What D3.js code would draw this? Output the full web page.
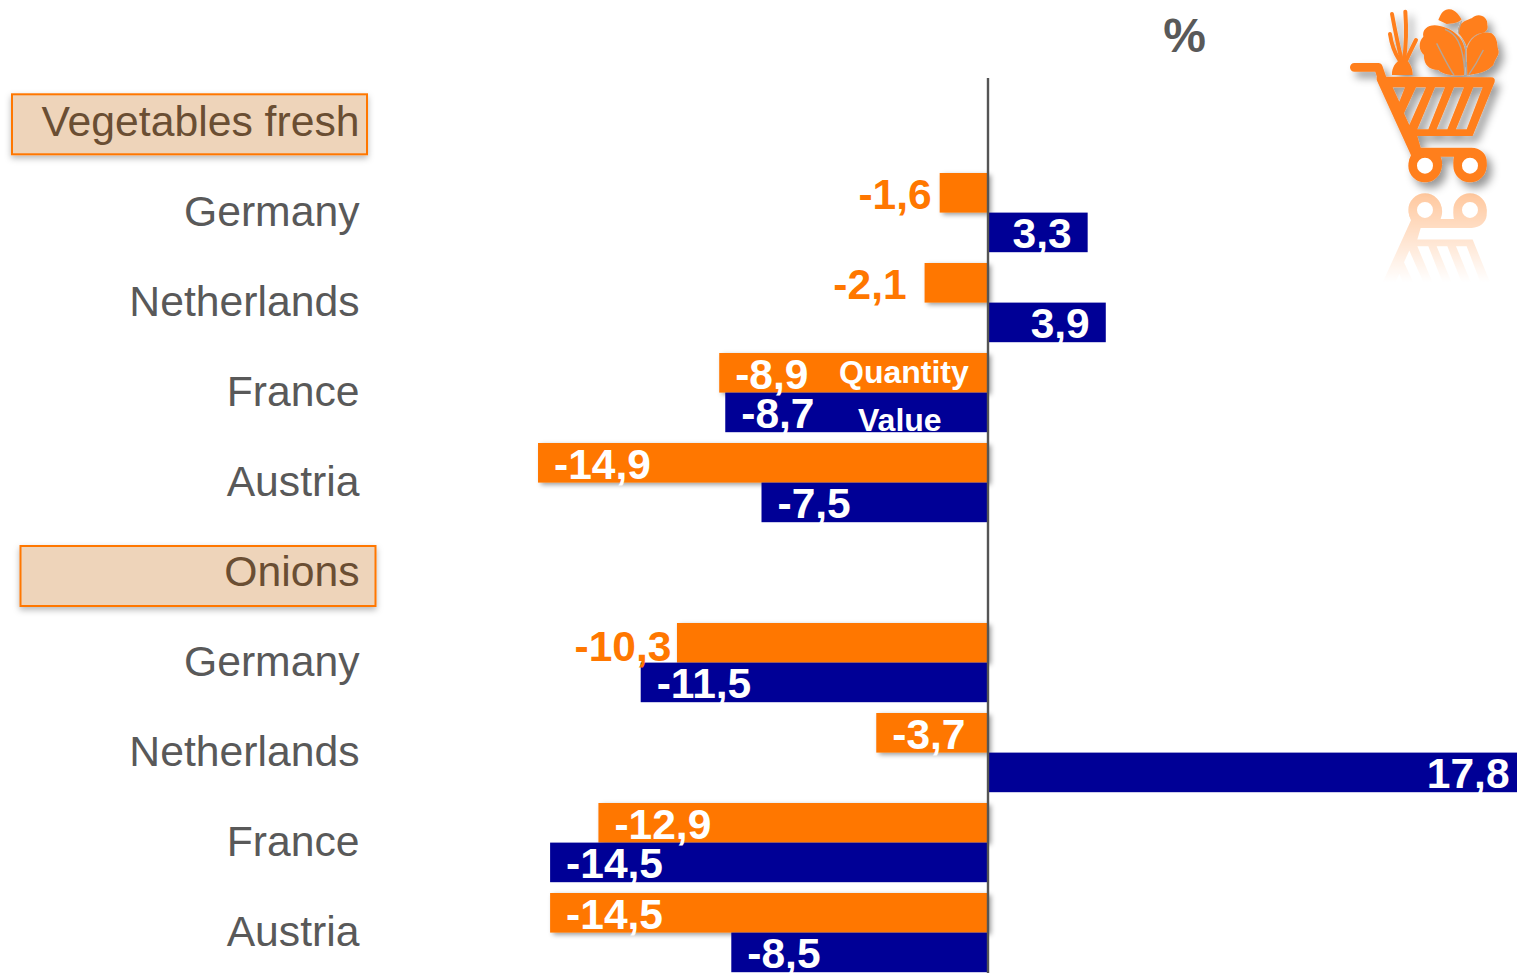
<!DOCTYPE html>
<html><head><meta charset="utf-8">
<script src="https://cdnjs.cloudflare.com/ajax/libs/d3/7.8.5/d3.min.js"></script>
<style>html,body{margin:0;padding:0;background:#fff;overflow:hidden}svg{display:block;font-family:"Liberation Sans",Arial,sans-serif}</style>
</head><body><svg id="c" width="1517" height="973"></svg>
<script>
const rowLabels = ["Vegetables fresh","Germany","Netherlands","France","Austria","Onions","Germany","Netherlands","France","Austria"];
const headerRows = [0,5];
const quantity = [null,-1.6,-2.1,-8.9,-14.9,null,-10.3,-3.7,-12.9,-14.5];
const value    = [null,3.3,3.9,-8.7,-7.5,null,-11.5,17.8,-14.5,-8.5];
const outsideLabels = [1,2,6];           // rows whose Quantity label sits outside the bar
const outsideGap = {1:8,2:18,6:5.5};
const legendWords = ["Quantity","Value"];
const unitLabel = "%";
const ORANGE="#ff7700", BLUE="#000096", GREY="#595959";

const svg=d3.select("#c");
const defs=svg.append("defs");
const shadow=(id,dx,dy,sd,op)=>{const f=defs.append("filter").attr("id",id).attr("x","-20%").attr("y","-20%").attr("width","150%").attr("height","150%");
  f.append("feDropShadow").attr("dx",dx).attr("dy",dy).attr("stdDeviation",sd).attr("flood-color","#000").attr("flood-opacity",op);};
shadow("boxS",0,3,3,.28); shadow("barS",3,2,2.5,.4); shadow("iconS",5,6,4,.4);
const grad=defs.append("linearGradient").attr("id","fade").attr("gradientUnits","userSpaceOnUse").attr("x1",0).attr("x2",0).attr("y1",190).attr("y2",282);
grad.append("stop").attr("offset",0).attr("stop-color","#fff").attr("stop-opacity",.45);
grad.append("stop").attr("offset",1).attr("stop-color","#fff").attr("stop-opacity",0);
defs.append("mask").attr("id","fadeM").attr("maskUnits","userSpaceOnUse").attr("x",1330).attr("y",188).attr("width",187).attr("height",110)
  .append("rect").attr("x",1330).attr("y",188).attr("width",187).attr("height",110).attr("fill","url(#fade)");

const x=d3.scaleLinear().domain([0,17.8]).range([988,988+17.8*30.2]);
const y=d3.scaleBand().domain(d3.range(rowLabels.length)).range([83,983]);
const sub=d3.scaleBand().domain(["q","v"]).range([0,79.2]);
const rows=rowLabels.map((l,i)=>({i,l}));

// header boxes
const boxes=[{r:0,x0:12,x1:367,dy:11.3},{r:5,x0:20.5,x1:375.5,dy:13}];
svg.selectAll("rect.hdr").data(boxes).join("rect").attr("class","hdr")
  .attr("x",d=>d.x0).attr("width",d=>d.x1-d.x0).attr("y",d=>y(d.r)+d.dy).attr("height",60)
  .attr("fill","#eed4ba").attr("stroke",ORANGE).attr("stroke-width",2).attr("filter","url(#boxS)");
svg.selectAll("text.cat").data(rows).join("text").attr("class","cat")
  .attr("x",359.5).attr("y",d=>y(d.i)+y.bandwidth()/2+8).attr("text-anchor","end")
  .attr("font-size",42.7).attr("fill",d=>headerRows.includes(d.i)?"#6a4e33":GREY).text(d=>d.l);

// bars
const mk=(arr,key,col)=>{
  const data=arr.map((v,i)=>({v,i,key})).filter(d=>d.v!==null);
  svg.append("g").selectAll("rect").data(data).join("rect")
    .attr("x",d=>Math.min(x(0),x(d.v))).attr("width",d=>Math.abs(x(d.v)-x(0)))
    .attr("y",d=>y(d.i)+sub(key)).attr("height",sub.bandwidth())
    .attr("fill",col).attr("filter",key==="q"?"url(#barS)":null);
  return data;
};
const qd=mk(quantity,"q",ORANGE); const vd=mk(value,"v",BLUE);

// axis line
svg.append("line").attr("x1",x(0)).attr("x2",x(0)).attr("y1",78).attr("y2",973).attr("stroke","#555").attr("stroke-width",2.4);

// value labels
const fmt=v=>String(v).replace(".",",");
const labels=qd.concat(vd);
svg.selectAll("text.val").data(labels).join("text").attr("class","val")
  .attr("font-size",42.5).attr("font-weight","bold")
  .attr("y",d=>y(d.i)+sub(d.key)+(d.key==="q"?(d.i===6?38:36):35))
  .attr("x",d=>{
    if(d.key==="q"&&outsideLabels.includes(d.i)) return x(d.v)-outsideGap[d.i];
    return d.v<0? x(d.v)+16 : x(d.v)-16;})
  .attr("text-anchor",d=>(d.key==="q"&&outsideLabels.includes(d.i))||d.v>0?"end":"start")
  .attr("fill",d=>d.key==="q"&&outsideLabels.includes(d.i)?ORANGE:"#fff")
  .text(d=>fmt(d.v));

// legend words
svg.append("text").attr("x",839).attr("y",383).attr("font-size",32).attr("font-weight","bold").attr("fill","#fff").text(legendWords[0]);
svg.append("text").attr("x",858).attr("y",431).attr("font-size",32).attr("font-weight","bold").attr("fill","#fff").text(legendWords[1]);
svg.append("text").attr("x",1184.5).attr("y",52).attr("text-anchor","middle").attr("font-size",48).attr("font-weight","bold").attr("fill",GREY).text(unitLabel);

// cart icon, drawn in the coordinates of a 3x zoom of its corner
const C="#ff7f1e";
const produceLeaves=[
 "M330 78C300 70 275 85 280 110C265 125 265 150 282 165C280 195 300 210 325 210C340 225 370 228 402 226L405 150C400 120 380 90 330 78Z",
 "M385 100C380 70 410 60 425 55C445 35 475 50 472 75C475 85 470 95 460 98C435 100 420 115 410 140C405 125 395 110 385 100Z",
 "M412 226L410 150C420 110 455 90 485 100C505 115 500 135 505 150C510 165 495 175 490 195C470 215 450 220 412 226Z",
 "M325 60C330 50 335 30 355 28C375 25 390 50 395 58C385 70 370 70 350 72Z",
 "M205 182C190 195 185 210 186 225L248 225C248 205 240 190 230 180Z"];
const veins=["M320 130C340 170 355 200 372 225","M345 88C375 100 400 125 405 225","M460 150C445 180 430 205 416 225","M395 62C390 75 385 85 385 100"];
const tops=["M186 42C195 90 205 140 215 180","M226 35C230 90 228 140 222 180","M180 102C185 135 195 160 207 178","M258 120C248 140 238 160 230 178"];
const basket="M140 230L483 232Q497 232 494 246L428 408H262L272 443H425C450 443 468 460 470 480L470 497A50 50 0 1 1 372 470H332A50 50 0 1 1 243 466L140 240Z"
 +"M188 262L225 262L208 305Z M258 262L288 262L238 375L222 340Z M315 262L345 262L295 388L262 388Z M372 262L402 262L352 388L320 388Z M430 262L458 262L410 388L378 388Z";
function icon(g,withProduce){
  const z=g.append("g").attr("transform","translate(1330,0) scale(0.3333)");
  if(withProduce){
    z.append("g").attr("fill",C).selectAll("path").data(produceLeaves).join("path").attr("d",d=>d);
    z.append("g").attr("fill","none").attr("stroke",C).attr("stroke-width",12).attr("stroke-linecap","round").selectAll("path").data(tops).join("path").attr("d",d=>d);
    z.append("g").attr("fill","none").attr("stroke","#b5a698").attr("stroke-width",4).selectAll("path").data(veins).join("path").attr("d",d=>d);
    z.append("path").attr("fill","none").attr("stroke",C).attr("stroke-width",26).attr("stroke-linecap","round").attr("stroke-linejoin","round").attr("d","M73 202H145L158 240");
  }
  z.append("path").attr("fill",C).attr("fill-rule","evenodd").attr("d",basket);
  z.selectAll("circle.w").data([285,420]).join("circle").attr("class","w").attr("cx",d=>d).attr("cy",497).attr("r",37).attr("fill","#fff").attr("stroke",C).attr("stroke-width",26);
}
icon(svg.append("g").attr("filter","url(#iconS)"),true);
const refl=svg.append("g").attr("mask","url(#fadeM)").append("g").attr("transform","translate(0,375.6) scale(1,-1)");
icon(refl,false);
</script></body></html>
